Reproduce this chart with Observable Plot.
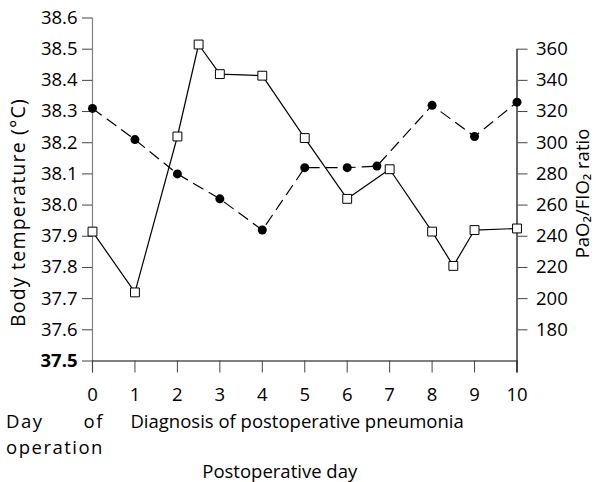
<!DOCTYPE html>
<html><head><meta charset="utf-8">
<script src="https://cdn.jsdelivr.net/npm/d3@7"></script>
<script src="https://cdn.jsdelivr.net/npm/@observablehq/plot@0.6"></script>
<style>
body{margin:0;background:#fff;}
#chart{position:relative;width:596px;height:482px;}
#chart svg{position:absolute;left:0;top:0;}
</style></head><body><div id="chart"></div>
<script>
// Temperature series (filled circles, dashed line) – left axis
const tempDays = [0, 1, 2, 3, 4, 5, 6, 6.7, 8, 9, 10];
const temperature = [38.31, 38.21, 38.10, 38.02, 37.92, 38.12, 38.12, 38.125, 38.32, 38.22, 38.33];
// PaO2/FIO2 series (open squares, solid line) – right axis
const ratioDays = [0, 1, 2, 2.5, 3, 4, 5, 6, 7, 8, 8.5, 9, 10];
const ratio = [243, 204, 304, 363, 344, 343, 303, 264, 283, 243, 221, 244, 245];
// Tick labels
const xTicks = [0, 1, 2, 3, 4, 5, 6, 7, 8, 9, 10];
const tempTicks = [37.5, 37.6, 37.7, 37.8, 37.9, 38.0, 38.1, 38.2, 38.3, 38.4, 38.5, 38.6];
const ratioTicks = [180, 200, 220, 240, 260, 280, 300, 320, 340, 360];
// Texts
const leftTitle = "Body temperature (°C)";
const rightTitle = "PaO₂/FIO₂ ratio";
const xTitle = "Postoperative day";
const note0 = ["Day of", "operation"];
const note1 = "Diagnosis of postoperative pneumonia";

const W = 596, H = 482;
const M = {top: 17.5, bottom: H - 360.5, left: 92, right: W - 516.5};
const FONT = "'Open Sans', Lato, sans-serif";
const FS = 18.5;
const base = {
  width: W, height: H,
  marginTop: M.top, marginBottom: M.bottom, marginLeft: M.left, marginRight: M.right,
  style: {fontFamily: FONT, fontSize: FS + "px", color: "#000", background: "transparent"},
  x: {domain: [0, 10], axis: null}
};

const tempData = tempDays.map((d, i) => ({day: d, v: temperature[i]}));
const ratioData = ratioDays.map((d, i) => ({day: d, v: ratio[i]}));

const p1 = Plot.plot({
  ...base,
  y: {domain: [37.5, 38.6], axis: null},
  marks: [
    Plot.ruleX([0], {stroke: "#808080", strokeWidth: 1.2, insetBottom: -12}),
    Plot.axisY(tempTicks, {tickSize: 10, tickPadding: 5, fontSize: FS, stroke: "#444", tickFormat: d => d.toFixed(1), label: null}),
    Plot.ruleY([37.5], {stroke: "#000", strokeWidth: 1.2}),
    Plot.axisX(xTicks, {tickSize: 12, tickPadding: 15, fontSize: FS, stroke: "#444", label: null}),
    Plot.line(tempData, {x: "day", y: "v", stroke: "#000", strokeWidth: 1.2, strokeDasharray: "11,7"}),
    Plot.dot(tempData, {x: "day", y: "v", r: 4.5, fill: "#000", stroke: null}),
    Plot.text([leftTitle], {frameAnchor: "left", textAnchor: "middle", rotate: -90, dx: -74, dy: 23, fontSize: 19.5, fill: "#000"}),
    Plot.text([note0[0]], {x: 0, frameAnchor: "bottom", textAnchor: "middle", dx: -37.5, dy: 61, lineAnchor: "middle", fill: "#000"}),
    Plot.text([note0[1]], {x: 0, frameAnchor: "bottom", textAnchor: "middle", dx: -37.5, dy: 87, lineAnchor: "middle", fill: "#000"}),
    Plot.text([note1], {x: 1, frameAnchor: "bottom", textAnchor: "start", dx: -4.5, dy: 61, lineAnchor: "middle", fill: "#000"}),
    Plot.text([xTitle], {frameAnchor: "bottom", textAnchor: "middle", dx: -25, dy: 111, lineAnchor: "middle", fill: "#000"})
  ]
});

const p2 = Plot.plot({
  ...base,
  y: {domain: [160, 380], axis: null},
  marks: [
    Plot.ruleX([10], {y1: 360, y2: 160, insetBottom: -12, stroke: "#000", strokeWidth: 1.2}),
    Plot.axisY(ratioTicks, {anchor: "right", tickSize: 10, tickPadding: 9, fontSize: FS, stroke: "#444", label: null}),
    Plot.line(ratioData, {x: "day", y: "v", stroke: "#000", strokeWidth: 1.2}),
    Plot.dot(ratioData, {x: "day", y: "v", symbol: "square", r: 5, fill: "#fff", stroke: "#000", strokeWidth: 1}),
    Plot.text([rightTitle], {frameAnchor: "right", textAnchor: "middle", rotate: -90, dx: 66.5, dy: 4, fill: "#000"})
  ]
});

const chart = document.getElementById("chart");
chart.appendChild(p1);
chart.appendChild(p2);

const texts = Array.from(p1.querySelectorAll("text"));
const byText = s => texts.find(t => t.textContent === s);
// the lowest temperature tick label is printed bold
const t375 = byText("37.5");
if (t375) t375.setAttribute("font-weight", "bold");
// the left title and the "Day of operation" note are set a little wider
const tL = byText(leftTitle);
if (tL) tL.setAttribute("letter-spacing", "1.2");
const tA = byText(note0[0]), tB = byText(note0[1]);
if (tA && tB) {
  tB.setAttribute("letter-spacing", "1.5");
  tA.setAttribute("letter-spacing", "1.5");
  const extra = tB.getComputedTextLength() - tA.getComputedTextLength();
  tA.setAttribute("word-spacing", extra);
}
</script></body></html>
